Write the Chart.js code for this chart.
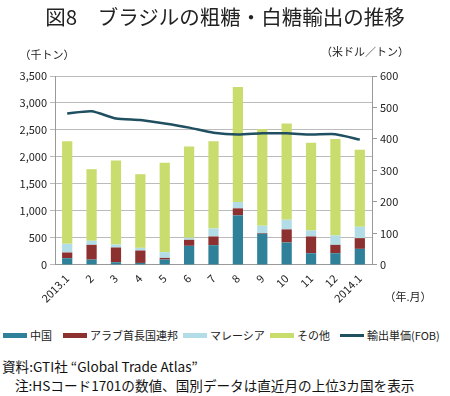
<!DOCTYPE html>
<html>
<head>
<meta charset="utf-8">
<script src="https://cdn.jsdelivr.net/npm/chart.js@4"></script>
<style>
  body { margin: 0; background: #fff; font-family: "Noto Sans CJK JP", sans-serif; }
  #wrap { position: relative; width: 450px; height: 396px; overflow: hidden; }
  #title { position: absolute; left: 0; top: 1px; width: 450px; text-align: center; font-size: 20.5px; color: #222; }
  #box { position: absolute; left: 0; top: 0; width: 450px; height: 320px; }
  #legend { position: absolute; left: 3px; top: 327px; height: 16px; font-size: 11px; color: #222; white-space: nowrap; }
  #legend span.item { position: absolute; top: 0; line-height: 16px; }
  #legend i { position: absolute; left: 0; top: 6px; width: 24px; height: 5px; }
  #legend b { position: absolute; font-weight: normal; left: 27px; top: 0; }
  .note { position: absolute; font-size: 13.6px; color: #111; white-space: nowrap; }
</style>
</head>
<body>
<div id="wrap">
  <div id="box"><canvas id="sugar-chart"></canvas></div>
  <div id="title">図8　ブラジルの粗糖・白糖輸出の推移</div>
  <div id="legend"></div>
  <div class="note" style="left:2px; top:356px;">資料:GTI社 “Global Trade Atlas”</div>
  <div class="note" style="left:15px; top:375px;">注:HSコード1701の数値、国別データは直近月の上位3カ国を表示</div>
</div>
<script>
// months
var months = ["2013.1","2","3","4","5","6","7","8","9","10","11","12","2014.1"];
// export volume by destination (千トン)
var china    = [124, 99, 50, 37, 99, 354, 366, 918, 577, 416, 217, 217, 298];
var uae      = [106, 273, 273, 230, 31, 111, 161, 130, 12, 242, 310, 155, 198];
var malaysia = [161, 75, 55, 49, 106, 37, 149, 118, 137, 179, 112, 174, 211];
var others   = [1899, 1327, 1557, 1365, 1656, 1694, 1613, 2128, 1793, 1781, 1625, 1787, 1427];
// export unit price FOB (US$/t)
var price    = [481, 488, 465, 460, 449, 436, 420, 414, 418, 418, 414, 415, 398];

var leftTicks = [0, 500, 1000, 1500, 2000, 2500, 3000, 3500];
var rightTicks = [0, 100, 200, 300, 400, 500, 600];

var jp = '"Noto Sans CJK JP", sans-serif';

// unit labels around the axes
var unitLabels = {
  id: 'unitLabels',
  afterDraw: function(chart) {
    var ctx = chart.ctx;
    ctx.save();
    ctx.fillStyle = '#222';
    ctx.font = '11px ' + jp;
    ctx.textBaseline = 'middle';
    ctx.textAlign = 'center';
    ctx.fillText('（千トン）', 47, 55);
    ctx.fillText('（米ドル／トン）', 365, 52);
    ctx.fillText('（年.月）', 408, 297);
    ctx.restore();
  }
};

var chart = new Chart(document.getElementById("sugar-chart"), {
  type: 'bar',
  data: {
    labels: months,
    datasets: [{
        label: "中国",
        data: china,
        backgroundColor: "#2f8199",
        yAxisID: 'y',
        order: 2
      }, {
        label: "アラブ首長国連邦",
        data: uae,
        backgroundColor: "#8c3030",
        yAxisID: 'y',
        order: 2
      }, {
        label: "マレーシア",
        data: malaysia,
        backgroundColor: "#b3dde6",
        yAxisID: 'y',
        order: 2
      }, {
        label: "その他",
        data: others,
        backgroundColor: "#c9dd6f",
        yAxisID: 'y',
        order: 2
      }, {
        type: 'line',
        label: "輸出単価(FOB)",
        data: price,
        borderColor: "#1f4f60",
        backgroundColor: "#1f4f60",
        borderWidth: 2.5,
        pointRadius: 0,
        tension: 0.2,
        fill: false,
        yAxisID: 'y2',
        order: 1
      }
    ]
  },
  options: {
    responsive: true,
    maintainAspectRatio: false,
    animation: false,
    layout: { padding: { top: 76, right: 0, left: 0, bottom: 13 } },
    datasets: { bar: { barPercentage: 0.42, categoryPercentage: 1 } },
    scales: {
      x: {
        stacked: true,
        grid: { display: false, drawOnChartArea: false, offset: true, tickLength: 5, color: '#999' },
        border: { color: '#999' },
        ticks: { minRotation: 45, maxRotation: 45, color: '#222', font: { size: 11, family: jp }, padding: 2 }
      },
      y: {
        stacked: true,
        position: 'left',
        min: 0, max: 3500,
        afterBuildTicks: function(axis) { axis.ticks = leftTicks.map(function(v) { return { value: v }; }); },
        afterFit: function(axis) { axis.width = 55; },
        grid: { color: '#bbb', tickLength: 5 },
        border: { color: '#999' },
        ticks: {
          color: '#222', font: { size: 11, family: jp },
          callback: function(value) { return value.toLocaleString('en-US'); }
        }
      },
      y2: {
        position: 'right',
        min: 0, max: 600,
        afterBuildTicks: function(axis) { axis.ticks = rightTicks.map(function(v) { return { value: v }; }); },
        afterFit: function(axis) { axis.width = 78; },
        grid: { drawOnChartArea: false, color: '#999', tickLength: 5 },
        border: { color: '#999' },
        ticks: { color: '#222', font: { size: 11, family: jp } }
      }
    },
    plugins: {
      legend: { display: false },
      tooltip: { enabled: false }
    }
  },
  plugins: [unitLabels]
});

// legend built from the chart's datasets
var legendX = [0, 60, 180, 267, 337];
var legendEl = document.getElementById('legend');
chart.data.datasets.forEach(function(ds, i) {
  var item = document.createElement('span');
  item.className = 'item';
  item.style.left = legendX[i] + 'px';
  var sw = document.createElement('i');
  sw.style.background = ds.backgroundColor;
  if (ds.type === 'line') { sw.style.height = '3px'; sw.style.top = '7px'; }
  var tx = document.createElement('b');
  tx.textContent = ds.label;
  item.appendChild(sw);
  item.appendChild(tx);
  legendEl.appendChild(item);
});
</script>
</body>
</html>
